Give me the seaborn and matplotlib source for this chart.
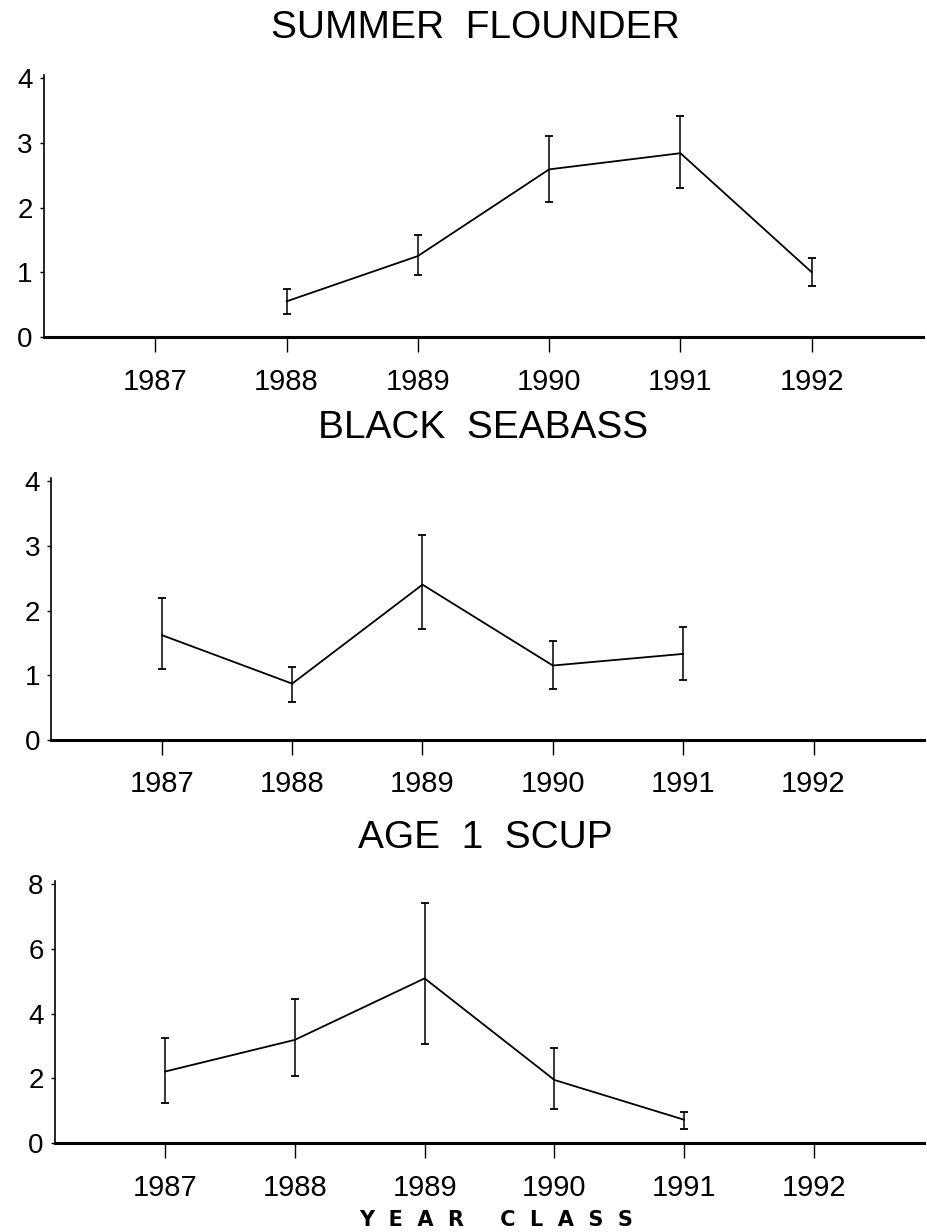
import matplotlib
matplotlib.use("Agg")
import matplotlib.pyplot as plt
import seaborn as sns
import pandas as pd

sns.set_style("ticks")
plt.rcParams['font.family'] = ['Liberation Sans', 'DejaVu Sans']

# ---- data ----
years_all = [1987, 1988, 1989, 1990, 1991, 1992]

flounder_years = [1988, 1989, 1990, 1991, 1992]
flounder_mean = [0.55, 1.25, 2.59, 2.84, 1.00]
flounder_low = [0.36, 0.96, 2.09, 2.30, 0.78]
flounder_high = [0.74, 1.58, 3.10, 3.42, 1.22]

seabass_years = [1987, 1988, 1989, 1990, 1991]
seabass_mean = [1.62, 0.87, 2.40, 1.15, 1.33]
seabass_low = [1.09, 0.59, 1.71, 0.79, 0.93]
seabass_high = [2.19, 1.13, 3.16, 1.53, 1.75]

scup_years = [1987, 1988, 1989, 1990, 1991]
scup_mean = [2.21, 3.19, 5.09, 1.95, 0.72]
scup_low = [1.25, 2.06, 3.07, 1.04, 0.42]
scup_high = [3.24, 4.44, 7.42, 2.95, 0.97]

titles = ["SUMMER  FLOUNDER", "BLACK  SEABASS", "AGE  1  SCUP"]
xlabel_text = "Y  E  A  R     C  L  A  S  S"

panels = [
    (flounder_years, flounder_mean, flounder_low, flounder_high, [0, 1, 2, 3, 4], 4.05),
    (seabass_years, seabass_mean, seabass_low, seabass_high, [0, 1, 2, 3, 4], 4.05),
    (scup_years, scup_mean, scup_low, scup_high, [0, 2, 4, 6, 8], 8.1),
]

fig = plt.figure(figsize=(9.28, 12.32), dpi=100)

axes_rects = [
    [0.047, 0.7265, 0.948, 0.2127],
    [0.055, 0.3994, 0.941, 0.2127],
    [0.059, 0.0722, 0.937, 0.2127],
]
title_pos = [(0.512, 0.977), (0.521, 0.6526), (0.523, 0.3198)]

for i, (yrs, mean, low, high, yt, ytop) in enumerate(panels):
    ax = fig.add_axes(axes_rects[i])
    df = pd.DataFrame({"year": yrs, "value": mean})
    sns.lineplot(data=df, x="year", y="value", ax=ax, color="black", linewidth=1.3)
    yerr = [[m - l for m, l in zip(mean, low)], [h - m for m, h in zip(mean, high)]]
    ax.errorbar(yrs, mean, yerr=yerr, fmt="none", ecolor="black",
                elinewidth=1.1, capsize=3, capthick=1.3)
    ax.set_xlim(1986.15, 1992.85)
    ax.set_ylim(0, ytop)
    ax.set_xticks(years_all)
    ax.set_xticklabels([str(y) for y in years_all])
    ax.set_yticks(yt)
    ax.set_yticklabels([str(v) for v in yt])
    ax.set_xlabel("")
    ax.set_ylabel("")
    for s in ["top", "right"]:
        ax.spines[s].set_visible(False)
    ax.spines["bottom"].set_linewidth(2.2)
    ax.spines["left"].set_linewidth(1.2)
    ax.spines["bottom"].set_color("black")
    ax.spines["left"].set_color("black")
    ax.tick_params(axis="x", direction="out", length=11, width=1.0,
                   pad=11, labelsize=21, colors="black")
    ax.tick_params(axis="y", direction="out", length=3, width=1.0,
                   pad=5, labelsize=20, colors="black")
    fig.text(title_pos[i][0], title_pos[i][1], titles[i], ha="center",
             va="center", fontsize=28, color="black")

fig.text(0.535, 0.0095, xlabel_text, ha="center", va="center",
         fontsize=15, fontweight="bold", color="black",
         family=["DejaVu Sans"])

fig.savefig("out.png", dpi=100, facecolor="white")
